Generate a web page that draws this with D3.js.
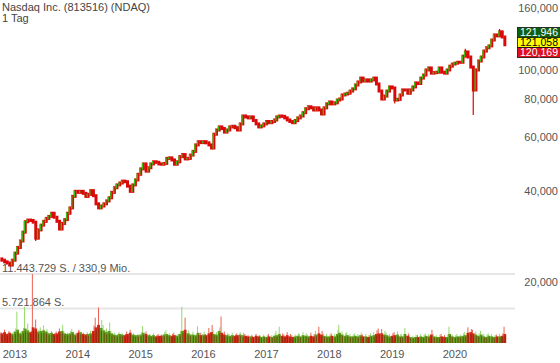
<!DOCTYPE html>
<html><head><meta charset="utf-8">
<script src="https://cdn.jsdelivr.net/npm/d3@7"></script>
<style>body{margin:0;background:#fff;} svg{display:block;font-family:"Liberation Sans",Arial,sans-serif;}</style>
</head><body><svg id="c" width="560" height="363"></svg>
<script>
const title = "Nasdaq Inc. (813516) (NDAQ)";
const subtitle = "1 Tag";
// half-monthly periods starting 2012-10-16
const firstPeriod = {year: 2012, month: 9, half: 1};
const closes = [
  23.6, 23.3, 23.1, 22.75, 23.6,
  24.9, 26.0, 27.3, 29.2, 31.6, 32.0, 31.9, 31.5, 27.9, 29.7, 30.8, 31.7, 32.4, 32.9, 33.7, 32.7, 31.7, 29.9, 31.2, 32.1, 33.7, 35.1, 38.3, 39.8,
  39.5, 39.8, 39.2, 38.3, 38.9, 40.0, 38.5, 36.2, 35.1, 35.6, 36.2, 37.0, 37.9, 39.5, 40.9, 41.8, 42.4, 43.0, 42.8, 41.4, 39.8, 41.8, 43.4, 45.3,
  47.2, 49.0, 46.4, 47.6, 49.0, 49.8, 49.6, 49.0, 48.9, 49.2, 51.1, 51.3, 50.5, 48.9, 49.8, 51.8, 52.6, 50.9, 51.1, 52.4, 53.9, 56.6, 58.0, 57.6,
  58.0, 57.5, 56.6, 55.3, 61.4, 63.4, 64.9, 64.1, 62.4, 63.4, 64.9, 65.2, 64.5, 63.4, 66.4, 70.5, 70.0, 69.5, 70.0, 68.1, 66.4, 64.9, 65.4, 66.4,
  67.6, 67.0, 67.6, 68.4, 70.0, 70.5, 70.3, 69.5, 68.4, 67.6, 67.0, 68.1, 69.5, 70.5, 72.3, 74.5, 75.6, 75.0, 73.8, 75.0, 73.8, 71.6, 75.0, 77.3,
  78.4, 77.3, 77.9, 79.6, 80.2, 82.7, 83.3, 83.8, 85.2, 86.6, 89.2, 91.3, 94.0, 91.9, 92.7, 91.9, 92.7, 94.0, 89.9, 85.2, 80.2, 82.0, 85.2, 87.9,
  87.2, 79.6, 80.0, 82.7, 85.9, 85.9, 83.8, 85.9, 87.9, 90.6, 90.2, 94.0, 96.2, 100.0, 101.5, 97.6, 98.0, 98.3, 101.5, 98.3, 97.6, 100.0, 102.9, 104.6,
  105.3, 106.0, 106.0, 111.0, 114.6, 110.3, 102.2, 85.9, 100.0, 107.0, 110.3, 115.4, 118.3, 120.0, 125.5, 130.4, 129.5, 133.5, 128.4, 121.058
];
// peak daily volume within each period, millions of shares
const volumePeaks = [
  1.8, 2.2, 1.6, 2.0, 1.7,
  2.4, 5.2, 1.8, 2.5, 6.0, 3.2, 2.0, 11.443729, 3.9, 2.2, 2.6, 2.9, 2.3, 1.8, 2.0, 1.6, 1.9, 2.4, 3.0, 1.9, 1.7, 2.0, 2.3, 1.6,
  2.1, 2.2, 1.7, 1.5, 1.8, 2.0, 2.9, 4.2, 5.9, 3.8, 3.0, 2.4, 3.4, 2.0, 1.7, 1.5, 1.8, 1.6, 1.5, 1.9, 2.2, 1.6, 1.4, 1.5,
  1.8, 2.8, 1.9, 1.5, 1.4, 1.6, 1.3, 1.5, 1.4, 1.8, 2.1, 1.6, 1.5, 1.7, 1.4, 2.0, 6.0, 4.2, 2.1, 1.7, 1.9, 1.6, 2.8, 1.7,
  1.9, 1.5, 2.5, 3.0, 2.2, 1.8, 2.6, 4.4, 1.9, 1.6, 1.5, 1.7, 1.4, 1.6, 1.8, 1.7, 1.5, 1.3, 1.4, 1.2, 1.5, 1.3, 1.2, 1.4,
  1.3, 1.5, 1.3, 1.6, 2.0, 2.7, 1.6, 1.4, 1.8, 1.5, 1.3, 1.4, 1.6, 1.5, 1.8, 1.6, 1.4, 1.7, 1.5, 2.0, 2.7, 2.0, 1.6, 1.5,
  1.4, 1.6, 1.5, 2.2, 3.0, 1.9, 1.6, 1.8, 1.5, 1.4, 1.6, 1.5, 1.7, 1.4, 1.5, 1.3, 1.6, 1.8, 2.1, 2.4, 2.3, 2.0, 1.7, 1.5,
  1.6, 1.8, 1.9, 1.5, 1.4, 2.5, 1.6, 1.3, 1.2, 1.4, 1.3, 1.5, 1.4, 1.6, 1.5, 2.2, 1.5, 1.3, 1.4, 1.5, 1.3, 1.4, 2.7, 1.4,
  1.3, 1.5, 1.4, 1.6, 1.8, 2.6, 2.3, 2.2, 1.9, 1.6, 2.0, 1.5, 1.4, 1.6, 1.5, 1.3, 1.4, 1.5, 1.6, 2.7
];
// typical daily volume within each period, millions of shares
const volumeBase = [
  1.6, 1.8, 1.5, 1.7, 1.5,
  1.9, 2.2, 1.6, 2.0, 2.4, 2.1, 1.8, 2.6, 2.4, 1.9, 2.0, 2.1, 1.9, 1.6, 1.7, 1.5, 1.6, 1.9, 2.0, 1.6, 1.5, 1.6, 1.8, 1.4,
  1.7, 1.8, 1.5, 1.4, 1.5, 1.6, 2.0, 2.6, 3.0, 2.5, 2.1, 1.8, 2.0, 1.6, 1.4, 1.3, 1.5, 1.4, 1.3, 1.5, 1.7, 1.4, 1.3, 1.3,
  1.4, 1.7, 1.5, 1.3, 1.2, 1.3, 1.1, 1.2, 1.2, 1.4, 1.5, 1.3, 1.2, 1.3, 1.2, 1.5, 2.0, 2.2, 1.6, 1.4, 1.4, 1.3, 1.7, 1.3,
  1.4, 1.3, 1.6, 1.8, 1.5, 1.4, 2.0, 1.7, 1.4, 1.3, 1.2, 1.3, 1.2, 1.3, 1.4, 1.3, 1.2, 1.1, 1.1, 1.0, 1.2, 1.1, 1.0, 1.1,
  1.0, 1.1, 1.0, 1.2, 1.3, 1.5, 1.2, 1.1, 1.3, 1.1, 1.0, 1.1, 1.2, 1.1, 1.3, 1.2, 1.1, 1.2, 1.1, 1.4, 1.6, 1.4, 1.2, 1.1,
  1.1, 1.2, 1.1, 1.5, 1.7, 1.4, 1.2, 1.3, 1.1, 1.1, 1.2, 1.1, 1.3, 1.1, 1.1, 1.0, 1.2, 1.3, 1.5, 1.6, 1.6, 1.4, 1.3, 1.1,
  1.2, 1.3, 1.4, 1.1, 1.1, 1.5, 1.2, 1.0, 0.9, 1.0, 1.0, 1.1, 1.0, 1.2, 1.1, 1.4, 1.1, 1.0, 1.0, 1.1, 1.0, 1.0, 1.5, 1.1,
  1.0, 1.1, 1.1, 1.2, 1.3, 1.7, 1.8, 1.6, 1.4, 1.2, 1.4, 1.1, 1.0, 1.2, 1.1, 1.0, 1.1, 1.1, 1.2, 1.5
];
const lowSpikes = [{index: 180, value: 71.0}, {index: 13, value: 27.3}, {index: 150, value: 77.5}];
const highSpikes = [{index: 190, value: 136.5}, {index: 177, value: 117.5}];
const priceTicks = [160, 100, 80, 60, 40, 20];
const yearTicks = [2013, 2014, 2015, 2016, 2017, 2018, 2019, 2020];
const lastValues = [121.946, 121.058, 120.169];
const volMax = 11443729;
const turnover = "330,9 Mio.";

const de = d3.formatLocale({decimal: ",", thousands: ".", grouping: [3], currency: ["", "€"]});
const fmtPrice = de.format(",.3f");
const fmtInt = de.format(",d");

const dates = closes.map((_, k) => {
  const h = firstPeriod.month * 2 + firstPeriod.half + k;
  const yr = firstPeriod.year + Math.floor(h / 24);
  const m = Math.floor((h % 24) / 2);
  return new Date(Date.UTC(yr, m, h % 2 ? 16 : 1));
});
const data = closes.map((c, k) => ({
  date: dates[k],
  open: k === 0 ? c * 1.01 : closes[k - 1],
  close: c,
  peak: volumePeaks[k],
  base: volumeBase[k]
}));

const svg = d3.select("#c");
const x = d3.scaleUtc().domain([new Date(Date.UTC(2013,0,1)), new Date(Date.UTC(2020,0,1))]).range([15, 455]);
const y = d3.scaleLog().domain([20, 160]).range([282, 8]);
const yv = d3.scaleLinear().domain([0, volMax / 1e6]).range([343, 274]);
const step = x(dates[1]) - x(dates[0]);
const green = "#3cbf10", red = "#da0808";

// volume gridlines
[volMax, Math.floor(volMax / 2)].forEach(v => {
  svg.append("line").attr("x1", 0).attr("x2", 515)
    .attr("y1", yv(v / 1e6)).attr("y2", yv(v / 1e6))
    .attr("stroke", "#e6e6e6").attr("stroke-width", 2);
});
svg.append("text").attr("x", 2).attr("y", yv(volMax / 1e6) - 2.5)
  .attr("font-size", 11).attr("fill", "#555")
  .text(fmtInt(volMax) + " S. / " + turnover);
svg.append("text").attr("x", 2).attr("y", yv(volMax / 2e6) - 2.5)
  .attr("font-size", 11).attr("fill", "#555")
  .text(fmtInt(Math.floor(volMax / 2)) + " S.");

// volume: peak lines, then dense base bars
const vg = svg.append("g");
vg.selectAll("line.peak").data(data).join("line").attr("class", "peak")
  .attr("x1", (d, i) => x(d.date) + (i % 3 - 1) * 0.7)
  .attr("x2", (d, i) => x(d.date) + (i % 3 - 1) * 0.7)
  .attr("y1", yv(0)).attr("y2", d => yv(d.peak))
  .attr("stroke", d => d.close >= d.open ? "#93d96a" : "#ec6152").attr("stroke-width", 1);
vg.selectAll("rect").data(data).join("rect")
  .attr("x", d => x(d.date) - step / 2)
  .attr("width", step + 0.1)
  .attr("y", d => yv(d.base))
  .attr("height", d => yv(0) - yv(d.base))
  .attr("fill", d => d.close >= d.open ? "#5f9a1c" : "#cf2816");
vg.selectAll("line.core").data(data).join("line").attr("class", "core")
  .attr("x1", d => x(d.date) + 0.4).attr("x2", d => x(d.date) + 0.4)
  .attr("y1", yv(0)).attr("y2", d => yv(d.base * 0.8))
  .attr("stroke", "#6e2c08").attr("stroke-width", 0.9).attr("stroke-opacity", 0.75);

// spikes (wicks)
lowSpikes.forEach(s => {
  const d = data[s.index];
  svg.append("line").attr("x1", x(d.date)).attr("x2", x(d.date))
    .attr("y1", y(Math.min(d.open, d.close))).attr("y2", y(s.value))
    .attr("stroke", red).attr("stroke-width", 1.2);
});
highSpikes.forEach(s => {
  const d = data[s.index];
  svg.append("line").attr("x1", x(d.date)).attr("x2", x(d.date))
    .attr("y1", y(Math.max(d.open, d.close))).attr("y2", y(s.value))
    .attr("stroke", red).attr("stroke-width", 1.2);
});

// candles: red range band, green strip on rising periods
const pad = 1.5;
const cg = svg.append("g");
cg.selectAll("rect.band").data(data).join("rect").attr("class", "band")
  .attr("x", d => x(d.date) - step / 2)
  .attr("width", step + 0.2)
  .attr("y", d => y(Math.max(d.open, d.close)) - pad)
  .attr("height", d => y(Math.min(d.open, d.close)) - y(Math.max(d.open, d.close)) + 2 * pad)
  .attr("fill", red);
cg.selectAll("rect.up").data(data.filter(d => d.close > d.open)).join("rect").attr("class", "up")
  .attr("x", d => x(d.date) - step / 2)
  .attr("width", 1.3)
  .attr("y", d => y(d.close) - pad * 0.5)
  .attr("height", d => y(d.open) - y(d.close) + pad)
  .attr("fill", green);

// price axis labels
svg.append("g").selectAll("text").data(priceTicks).join("text")
  .attr("x", 558).attr("y", d => y(d) + 4)
  .attr("text-anchor", "end").attr("font-size", 11).attr("fill", "#555")
  .text(d => fmtPrice(d));

// year labels
svg.append("g").selectAll("text").data(yearTicks).join("text")
  .attr("x", d => x(new Date(Date.UTC(d, 0, 1))))
  .attr("y", 358).attr("text-anchor", "middle").attr("font-size", 11).attr("fill", "#555")
  .text(d => d);

// last value boxes
const boxFill = ["#0e5f12", "#ffff00", "#e0101e"];
const boxText = ["#fff", "#000", "#fff"];
lastValues.forEach((v, i) => {
  const by = 27.5 + i * 10;
  svg.append("rect").attr("x", 517.5).attr("y", by).attr("width", 43).attr("height", 10)
    .attr("fill", boxFill[i]).attr("stroke", "#111").attr("stroke-width", 0.8);
  svg.append("text").attr("x", 539).attr("y", by + 8.6).attr("text-anchor", "middle")
    .attr("font-size", 10.5).attr("fill", boxText[i]).text(fmtPrice(v));
});

// title
svg.append("text").attr("x", 2).attr("y", 11).attr("font-size", 11).attr("fill", "#444").text(title);
svg.append("text").attr("x", 2).attr("y", 21.5).attr("font-size", 11).attr("fill", "#444").text(subtitle);
</script>
</body></html>
